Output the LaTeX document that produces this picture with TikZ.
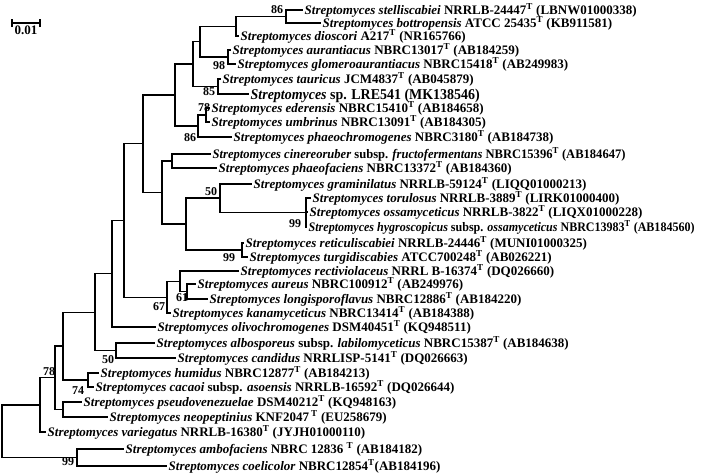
\documentclass[tikz,border=0pt]{standalone}
\usepackage{fontspec}
\setmainfont{Liberation Serif}
\newcommand\strepname[1]{\textit{Streptomyces #1}}
\newcommand\tsup{\textsuperscript{T}}
\begin{document}
\begin{tikzpicture}[x=1pt,y=-1pt,
  br/.style={line width=1.2pt, line join=miter},
  leaf/.style={anchor=west, inner sep=1.5pt, text height=8.6pt, text depth=0pt,
    font=\fontsize{13}{13}\selectfont\bfseries},
  bigleaf/.style={anchor=west, inner sep=1.5pt, text height=10pt, text depth=0pt,
    font=\fontsize{15}{15}\selectfont\bfseries},
  bs/.style={inner sep=0pt, font=\fontsize{12}{12}\selectfont\bfseries}]
\useasboundingbox (0,0) rectangle (708,472);
\fill[white] (0,0) rectangle (708,472);

% scale bar
\coordinate (sbl) at (12,23);
\coordinate (sbr) at (40,23);
\draw[line width=1.2pt] (sbl) -- (sbr);
\draw[line width=1.2pt] ([yshift=-4pt]sbl) -- ([yshift=4pt]sbl);
\draw[line width=1.2pt] ([yshift=-4pt]sbr) -- ([yshift=4pt]sbr);
\node[bs, font=\fontsize{13}{13}\selectfont\bfseries] (sblab) at (26,30) {0.01};

% leaves
\node[leaf] (L1) at (303,10) {\strepname{stelliscabiei} NRRLB-24447\tsup{} (LBNW01000338)};
\node[leaf] (L2) at (321,23) {\strepname{bottropensis} ATCC 25435\tsup{} (KB911581)};
\node[leaf] (L3) at (239,36) {\strepname{dioscori} A217\tsup{} (NR165766)};
\node[leaf] (L4) at (231,50) {\strepname{aurantiacus} NBRC13017\tsup{} (AB184259)};
\node[leaf] (L5) at (236,64) {\strepname{glomeroaurantiacus} NBRC15418\tsup{} (AB249983)};
\node[leaf] (L6) at (221,79) {\strepname{tauricus} JCM4837\tsup{} (AB045879)};
\node[bigleaf] (L7) at (249,94) {\scalebox{0.93}[1]{\textit{Streptomyces} sp. LRE541 (MK138546)}};
\node[leaf] (L8) at (210,108) {\strepname{ederensis} NBRC15410\tsup{} (AB184658)};
\node[leaf] (L9) at (210,122) {\strepname{umbrinus} NBRC13091\tsup{} (AB184305)};
\node[leaf] (L10) at (232,137) {\strepname{phaeochromogenes} NBRC3180\tsup{} (AB184738)};
\node[leaf] (L11) at (211,154) {\scalebox{0.966}[1]{\strepname{cinereoruber} subsp. \textit{fructofermentans} NBRC15396\tsup{} (AB184647)}};
\node[leaf] (L12) at (217,168) {\strepname{phaeofaciens} NBRC13372\tsup{} (AB184360)};
\node[leaf] (L13) at (252,184) {\strepname{graminilatus} NRRLB-59124\tsup{} (LIQQ01000213)};
\node[leaf] (L14) at (311,198) {\strepname{torulosus} NRRLB-3889\tsup{} (LIRK01000400)};
\node[leaf] (L15) at (308,212) {\strepname{ossamyceticus} NRRLB-3822\tsup{} (LIQX01000228)};
\node[leaf] (L16) at (307,227) {\scalebox{0.925}[1]{\strepname{hygroscopicus} subsp. \textit{ossamyceticus} NBRC13983\tsup{} (AB184560)}};
\node[leaf] (L17) at (244,243) {\strepname{reticuliscabiei} NRRLB-24446\tsup{} (MUNI01000325)};
\node[leaf] (L18) at (248,257) {\strepname{turgidiscabies} ATCC700248\tsup{} (AB026221)};
\node[leaf] (L19) at (239,271) {\strepname{rectiviolaceus} NRRL B-16374\tsup{} (DQ026660)};
\node[leaf] (L20) at (196,284) {\strepname{aureus} NBRC100912\tsup{} (AB249976)};
\node[leaf] (L21) at (208,299) {\strepname{longisporoflavus} NBRC12886\tsup{} (AB184220)};
\node[leaf] (L22) at (171,313) {\strepname{kanamyceticus} NBRC13414\tsup{} (AB184388)};
\node[leaf] (L23) at (156,327) {\strepname{olivochromogenes} DSM40451\tsup{} (KQ948511)};
\node[leaf] (L24) at (155,343) {\strepname{albosporeus} subsp. \textit{labilomyceticus} NBRC15387\tsup{} (AB184638)};
\node[leaf] (L25) at (176,358) {\strepname{candidus} NRRLISP-5141\tsup{} (DQ026663)};
\node[leaf] (L26) at (99,373) {\strepname{humidus} NBRC12877\tsup{} (AB184213)};
\node[leaf] (L27) at (94,387) {\strepname{cacaoi} subsp. \textit{asoensis} NRRLB-16592\tsup{} (DQ026644)};
\node[leaf] (L28) at (82,402) {\strepname{pseudovenezuelae} DSM40212\tsup{} (KQ948163)};
\node[leaf] (L29) at (108,417) {\strepname{neopeptinius} KNF2047\,\tsup{} (EU258679)};
\node[leaf] (L30) at (46,432) {\strepname{variegatus} NRRLB-16380\tsup{} (JYJH01000110)};
\node[leaf] (L31) at (124,449) {\strepname{ambofaciens} NBRC 12836 \tsup{} (AB184182)};
\node[leaf] (L32) at (167,466) {\strepname{coelicolor} NBRC12854\tsup{}(AB184196)};

% internal nodes
\coordinate (n86) at (286,16.5);
\coordinate (nA) at (236,26.25);
\coordinate (nC) at (228,57);
\coordinate (nB) at (200,41.6);
\coordinate (nTL) at (218,86.5);
\coordinate (nE) at (193,64);
\coordinate (nG) at (206,115);
\coordinate (nF) at (198,126);
\coordinate (nD) at (175,95);
\coordinate (nL) at (172,161);
\coordinate (nO) at (306,212.5);
\coordinate (nN) at (220,198);
\coordinate (nP) at (242,250);
\coordinate (nM) at (186,224);
\coordinate (nK) at (162,192.5);
\coordinate (nH) at (143,143.75);
\coordinate (nS) at (187,291.5);
\coordinate (nR) at (180,281.25);
\coordinate (nQ) at (167,297.1);
\coordinate (nI) at (124,220.4);
\coordinate (nJ) at (112,273.7);
\coordinate (nU) at (116,350.5);
\coordinate (nT) at (95,312.1);
\coordinate (nW) at (88,380);
\coordinate (nY) at (63,346);
\coordinate (nX) at (63,409.5);
\coordinate (nZ) at (55,377.8);
\coordinate (nAA) at (40,404.9);
\coordinate (nBB) at (77,457.5);
\coordinate (nroot) at (2,431.2);

% branches
\draw[br] (n86) |- (L1.west);  \draw[br] (n86) |- (L2.west);
\draw[br] (nA) |- (n86);       \draw[br] (nA) |- (L3.west);
\draw[br] (nC) |- (L4.west);   \draw[br] (nC) |- (L5.west);
\draw[br] (nB) |- (nA);        \draw[br] (nB) |- (nC);
\draw[br] (nTL) |- (L6.west);  \draw[br] (nTL) |- (L7.west);
\draw[br] (nE) |- (nB);        \draw[br] (nE) |- (nTL);
\draw[br] (nG) |- (L8.west);   \draw[br] (nG) |- (L9.west);
\draw[br] (nF) |- (nG);        \draw[br] (nF) |- (L10.west);
\draw[br] (nD) |- (nE);        \draw[br] (nD) |- (nF);
\draw[br] (nL) |- (L11.west);  \draw[br] (nL) |- (L12.west);
\draw[br] (nO) |- (L14.west);  \draw[br] (nO) |- (L15.west);  \draw[br] (nO) |- (L16.west);
\draw[br] (nN) |- (L13.west);  \draw[br] (nN) |- (nO);
\draw[br] (nP) |- (L17.west);  \draw[br] (nP) |- (L18.west);
\draw[br] (nM) |- (nN);        \draw[br] (nM) |- (nP);
\draw[br] (nK) |- (nL);        \draw[br] (nK) |- (nM);
\draw[br] (nH) |- (nD);        \draw[br] (nH) |- (nK);
\draw[br] (nS) |- (L20.west);  \draw[br] (nS) |- (L21.west);
\draw[br] (nR) |- (L19.west);  \draw[br] (nR) |- (nS);
\draw[br] (nQ) |- (nR);        \draw[br] (nQ) |- (L22.west);
\draw[br] (nI) |- (nH);        \draw[br] (nI) |- (nQ);
\draw[br] (nJ) |- (nI);        \draw[br] (nJ) |- (L23.west);
\draw[br] (nU) |- (L24.west);  \draw[br] (nU) |- (L25.west);
\draw[br] (nT) |- (nJ);        \draw[br] (nT) |- (nU);
\draw[br] (nW) |- (L26.west);  \draw[br] (nW) |- (L27.west);
\draw[br] (nY) |- (nT);        \draw[br] (nY) |- (nW);
\draw[br] (nX) |- (L28.west);  \draw[br] (nX) |- (L29.west);
\draw[br] (nZ) |- (nY);        \draw[br] (nZ) |- (nX);
\draw[br] (nAA) |- (nZ);       \draw[br] (nAA) |- (L30.west);
\draw[br] (nBB) |- (L31.west); \draw[br] (nBB) |- (L32.west);
\draw[br] (nroot) |- (nAA);    \draw[br] (nroot) |- (nBB);

% bootstrap values
\node[bs] (b1) at (277,10) {86};
\node[bs] (b2) at (219,66) {98};
\node[bs] (b3) at (209,92) {85};
\node[bs] (b4) at (204,108) {78};
\node[bs] (b5) at (190,138) {86};
\node[bs] (b6) at (211,192) {50};
\node[bs] (b7) at (295,224) {99};
\node[bs] (b8) at (229,258) {99};
\node[bs] (b9) at (182,298) {61};
\node[bs] (b10) at (159,307) {67};
\node[bs] (b11) at (108,360) {50};
\node[bs] (b12) at (49,372) {78};
\node[bs] (b13) at (78,391) {74};
\node[bs] (b14) at (68,462) {99};
\end{tikzpicture}
\end{document}
